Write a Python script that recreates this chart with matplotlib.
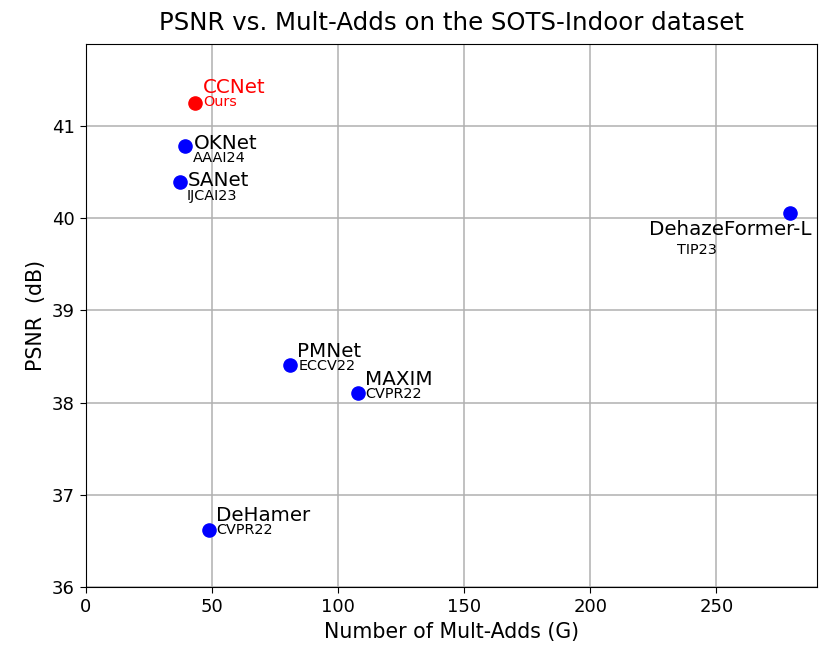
import matplotlib.pyplot as plt

# =========================
# DATA
# =========================
models = ["CCNet", "OKNet", "SANet", "DehazeFormer-L", "PMNet", "MAXIM", "DeHamer"]
venues = ["Ours", "AAAI24", "IJCAI23", "TIP23", "ECCV22", "CVPR22", "CVPR22"]
mult_adds = [43.3, 39.3, 37.3, 279.0, 81.0, 108.0, 48.8]
psnr = [41.25, 40.78, 40.39, 40.06, 38.41, 38.10, 36.62]

# label offsets in pixels (name, venue)
name_offsets = [(8, 15), (9, 3), (8, 2), (-141, -17), (7, 13), (7, 14), (7, 14)]
venue_offsets = [(8, 1), (8, -12), (7, -14), (-113, -37), (8, -1), (7, -1), (7, 0)]

# =========================
# PLOT
# =========================
fig = plt.figure(figsize=(8.34, 6.55), dpi=100)
ax = fig.add_axes([0.103, 0.104, 0.877, 0.829])
ax.set_axisbelow(True)

for i, name in enumerate(models):
    is_ours = name == "CCNet"
    dot_color = "red" if is_ours else "blue"
    text_color = "red" if is_ours else "black"
    ax.scatter(mult_adds[i], psnr[i], s=90, color=dot_color, zorder=3)
    ax.annotate(name, (mult_adds[i], psnr[i]), xytext=name_offsets[i],
                textcoords="offset pixels", ha="left", va="center",
                fontsize=14.3, color=text_color)
    ax.annotate(venues[i], (mult_adds[i], psnr[i]), xytext=venue_offsets[i],
                textcoords="offset pixels", ha="left", va="center",
                fontsize=10.4, color=text_color)

ax.set_xlim(0, 290)
ax.set_ylim(36, 41.89)
ax.set_xticks([0, 50, 100, 150, 200, 250])
ax.set_yticks([36, 37, 38, 39, 40, 41])
ax.tick_params(labelsize=13, length=4.5)

ax.set_xlabel("Number of Mult-Adds (G)", fontsize=14.8)
ax.set_ylabel("PSNR  (dB)", fontsize=14.8)
ax.set_title("PSNR vs. Mult-Adds on the SOTS-Indoor dataset", fontsize=17.6, pad=10)
ax.grid(True, color="#b0b0b0", linewidth=1.1)

fig.savefig("out.png", dpi=100)
